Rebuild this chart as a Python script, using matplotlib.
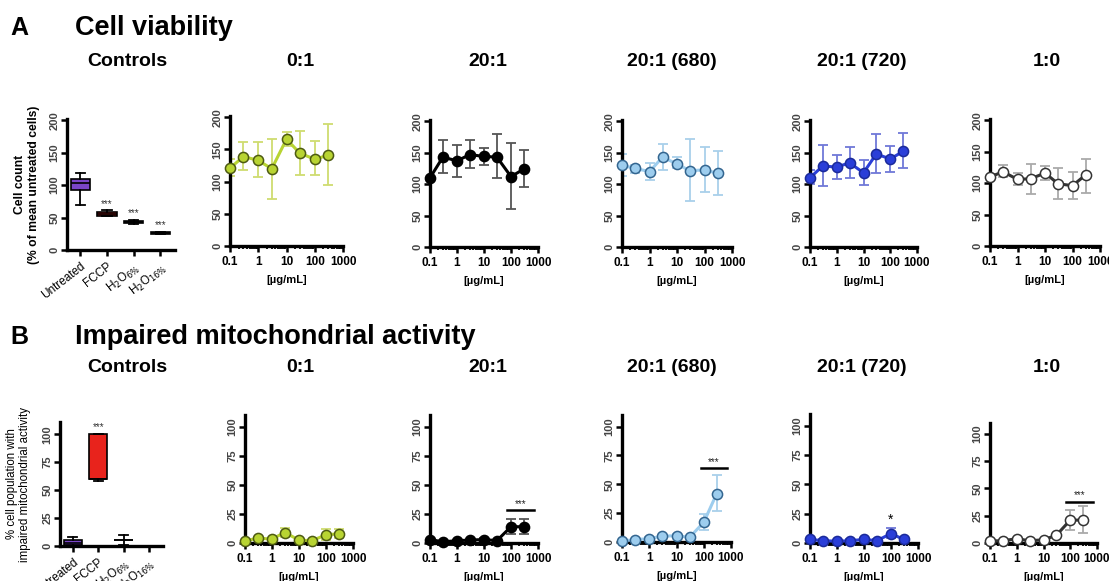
import numpy as np
import matplotlib
matplotlib.use("Agg")
import matplotlib.pyplot as plt

plt.rcParams['font.family'] = ['Liberation Sans', 'DejaVu Sans']

W, H = 1109, 581

# ---------------- data ----------------
conc = [0.1, 0.3, 1, 3, 10, 30, 100, 300]
groups = ["0:1", "20:1", "20:1 (680)", "20:1 (720)", "1:0"]

# Row A: cell viability (mean, low, high)
via_mean = {
    "0:1":        [121, 139, 133, 120, 166, 144, 135, 141],
    "20:1":       [110, 143, 137, 147, 144, 143, 112, 124],
    "20:1 (680)": [130, 125, 120, 143, 132, 121, 123, 117],
    "20:1 (720)": [110, 129, 127, 134, 118, 148, 140, 152],
    "1:0":        [110, 118, 106, 107, 116, 99, 96, 113],
}
via_lo = {
    "0:1":        [108, 118, 107, 73, 155, 110, 110, 95],
    "20:1":       [108, 117, 112, 125, 130, 110, 60, 95],
    "20:1 (680)": [113, 118, 107, 122, 125, 73, 87, 83],
    "20:1 (720)": [100, 97, 108, 110, 98, 118, 120, 125],
    "1:0":        [105, 110, 97, 82, 105, 75, 75, 85],
}
via_hi = {
    "0:1":        [135, 162, 162, 167, 177, 178, 163, 190],
    "20:1":       [112, 170, 163, 170, 157, 179, 166, 155],
    "20:1 (680)": [148, 131, 133, 164, 143, 172, 159, 152],
    "20:1 (720)": [122, 163, 147, 159, 139, 180, 161, 181],
    "1:0":        [115, 129, 116, 130, 128, 124, 117, 139],
}

# Row B: impaired mitochondrial activity
mito_mean = {
    "0:1":        [2, 4, 3.5, 9, 2.5, 2, 7, 8],
    "20:1":       [3, 1, 2, 2.5, 3, 2, 14, 14],
    "20:1 (680)": [1, 2, 3, 5, 5.5, 4, 17, 42],
    "20:1 (720)": [3, 2, 1.5, 2, 3, 2, 8, 3],
    "1:0":        [2, 2, 4, 2, 3, 7, 21, 21],
}
mito_lo = {
    "0:1":        [1, 3, 2.5, 5, 1.5, 1, 3, 4],
    "20:1":       [2, 0.5, 1, 2, 2, 1, 8, 8],
    "20:1 (680)": [0.5, 1.5, 2, 4, 4.5, 3, 10, 27],
    "20:1 (720)": [2, 1, 1, 1, 2, 1, 4, 2],
    "1:0":        [1, 1, 3, 1, 2, 6, 12, 9],
}
mito_hi = {
    "0:1":        [3, 5, 4.5, 13, 3.5, 3, 12, 12],
    "20:1":       [4, 1.5, 3, 3, 4, 3, 21, 21],
    "20:1 (680)": [1.5, 2.5, 4, 6, 6.5, 5, 24, 58],
    "20:1 (720)": [4, 3, 2, 3, 4, 3, 13, 4],
    "1:0":        [3, 3, 5, 3, 4, 8, 30, 34],
}
# significance annotations: (label, y, x_from, x_to)
mito_sig = {
    "20:1":       ("***", 28, 70, 700),
    "20:1 (680)": ("***", 64, 80, 700),
    "20:1 (720)": ("*", 14, 100, 100),
    "1:0":        ("***", 38, 70, 700),
}

ctrl_cats = ["Untreated", "FCCP", r"H$_2$O$_{6\%}$", r"H$_2$O$_{16\%}$"]
# box stats: whislo, q1, med, q3, whishi
ctrl_via = [
    [70, 93, 103, 110, 119],
    [52, 53, 56, 59, 61],
    [40, 42, 43, 44, 47],
    [24, 25, 26, 27, 28],
]
ctrl_via_sig = ["", "***", "***", "***"]
ctrl_mito = [
    [0, 1, 3, 5, 8],
    [58, 60, 60, 100, 100],
    [1, 5, 5, 5, 10],
    [0, 0, 0, 0, 0],
]
ctrl_mito_sig = ["", "***", "", ""]
ctrl_colors = ["#7a45c8", "#e8231c", "#555555", "#333333"]

styles = {
    "0:1":        dict(mfc="#b8d432", mec="#4d5a12", lc="#b8d432", ec="#cfdc70"),
    "20:1":       dict(mfc="#000000", mec="#000000", lc="#000000", ec="#555555"),
    "20:1 (680)": dict(mfc="#9dcdee", mec="#33658f", lc="#9dcdee", ec="#a9d0ea"),
    "20:1 (720)": dict(mfc="#2a3ed8", mec="#1b2a9a", lc="#2a3ed8", ec="#6f78d8"),
    "1:0":        dict(mfc="#ffffff", mec="#333333", lc="#333333", ec="#aaaaaa"),
}


def px(l, t, r, b):
    return [l / W, 1 - b / H, (r - l) / W, (b - t) / H]


def style_ax(ax):
    for s in ["top", "right"]:
        ax.spines[s].set_visible(False)
    for s in ["left", "bottom"]:
        ax.spines[s].set_linewidth(2.4)
    ax.tick_params(axis="both", which="major", width=1.8, length=4, direction="out")
    ax.tick_params(axis="both", which="minor", width=1.3, length=2.5, direction="out")
    ax.tick_params(axis="y", labelsize=8, labelcolor="#444444", pad=1.5)
    for lab in ax.get_yticklabels():
        lab.set_rotation(90)
        lab.set_va("center")
        lab.set_fontweight("bold")


fig = plt.figure(figsize=(W / 100, H / 100), dpi=100)

# headings
fig.text(10 / W, 1 - 28 / H, "A", fontsize=18, fontweight="bold", va="center")
fig.text(75 / W, 1 - 28 / H, "Cell viability", fontsize=19.5, fontweight="bold", va="center")
fig.text(10 / W, 1 - 337 / H, "B", fontsize=18, fontweight="bold", va="center")
fig.text(75 / W, 1 - 337 / H, "Impaired mitochondrial activity", fontsize=19.5,
         fontweight="bold", va="center")

sub_x = [127, 300, 488, 672, 862, 1047]
sub_names = ["Controls"] + groups
for x, n in zip(sub_x, sub_names):
    fig.text(x / W, 1 - 61 / H, n, fontsize=14, fontweight="bold", ha="center", va="center")
    fig.text(x / W, 1 - 368 / H, n, fontsize=14, fontweight="bold", ha="center", va="center")

rowA_pos = [(230, 116, 343, 246), (430, 120, 538, 247), (622, 120, 732, 247),
            (810, 120, 917, 247), (990, 119, 1100, 246)]
rowB_pos = [(245, 415, 353, 543), (430, 415, 538, 543), (622, 415, 731, 542),
            (810, 414, 918, 543), (990, 423, 1097, 543)]


def dose_panel(pos, g, mean, lo, hi, ylim, yticks, sig=None):
    ax = fig.add_axes(px(*pos))
    st = styles[g]
    m = np.array(mean[g]); l = np.array(lo[g]); h = np.array(hi[g])
    ax.errorbar(conc, m, yerr=[m - l, h - m], fmt="none", ecolor=st["ec"],
                elinewidth=1.3, capsize=3.5, capthick=1.3, zorder=2)
    ax.plot(conc, m, "-", color=st["lc"], lw=2.2, zorder=3)
    ax.plot(conc, m, "o", ms=7.3, mfc=st["mfc"], mec=st["mec"], mew=1.1, zorder=4,
            clip_on=False)
    ax.set_xscale("log")
    ax.set_xlim(0.1, 1000)
    ax.set_ylim(*ylim)
    ax.set_yticks(yticks)
    ax.set_xticks([0.1, 1, 10, 100, 1000])
    ax.set_xticklabels(["0.1", "1", "10", "100", "1000"], fontsize=8.5, fontweight="bold")
    ax.set_xlabel("[µg/mL]", fontsize=8, fontweight="bold", labelpad=5)
    style_ax(ax)
    if sig is not None:
        lab, y, x0, x1 = sig
        if x0 != x1:
            ax.plot([x0, x1], [y, y], color="black", lw=1.8)
            ax.text(np.sqrt(x0 * x1), y + 1, lab, ha="center", va="bottom", fontsize=7,
                    color="#222222")
        else:
            ax.text(x0, y, lab, ha="center", va="bottom", fontsize=10)
    return ax


for pos, g in zip(rowA_pos, groups):
    dose_panel(pos, g, via_mean, via_lo, via_hi, (0, 202), [0, 50, 100, 150, 200])
for pos, g in zip(rowB_pos, groups):
    dose_panel(pos, g, mito_mean, mito_lo, mito_hi, (0, 110), [0, 25, 50, 75, 100],
               mito_sig.get(g))


def ctrl_panel(pos, stats, sig, ylim, yticks, ylabel, bold, fs, pad):
    ax = fig.add_axes(px(*pos))
    bxp = []
    for s in stats:
        bxp.append(dict(whislo=s[0], q1=s[1], med=s[2], q3=s[3], whishi=s[4], fliers=[]))
    xs = np.arange(len(stats))
    b = ax.bxp(bxp, positions=xs, widths=0.72, patch_artist=True, showfliers=False,
               boxprops=dict(linewidth=1.2, edgecolor="black"),
               medianprops=dict(color="black", lw=1.2),
               whiskerprops=dict(lw=1.3), capprops=dict(lw=1.3))
    for patch, c in zip(b["boxes"], ctrl_colors):
        patch.set_facecolor(c)
    for x, s, t in zip(xs, stats, sig):
        if t:
            ax.text(x, s[4] + 2, t, ha="center", va="bottom", fontsize=7, color="#333333")
    ax.set_xlim(-0.5, 3.55)
    ax.set_ylim(*ylim)
    ax.set_yticks(yticks)
    ax.set_xticks(xs)
    ax.set_xticklabels(ctrl_cats, rotation=38, ha="right", rotation_mode="anchor",
                       fontsize=8.5)
    ax.set_ylabel(ylabel, fontsize=fs, fontweight="bold" if bold else "normal",
                  labelpad=pad, linespacing=1.15)
    style_ax(ax)
    return ax


ctrl_panel((67, 119, 175, 250), ctrl_via, ctrl_via_sig, (0, 202), [0, 50, 100, 150, 200],
           "Cell count\n(% of mean untreated cells)", True, 8.7, 7)
ctrl_panel((60, 422, 163, 546), ctrl_mito, ctrl_mito_sig, (0, 111), [0, 25, 50, 75, 100],
           "% cell population with\nimpaired mitochondrial activity", False, 8.3, 8)

fig.savefig("out.png", dpi=100)
